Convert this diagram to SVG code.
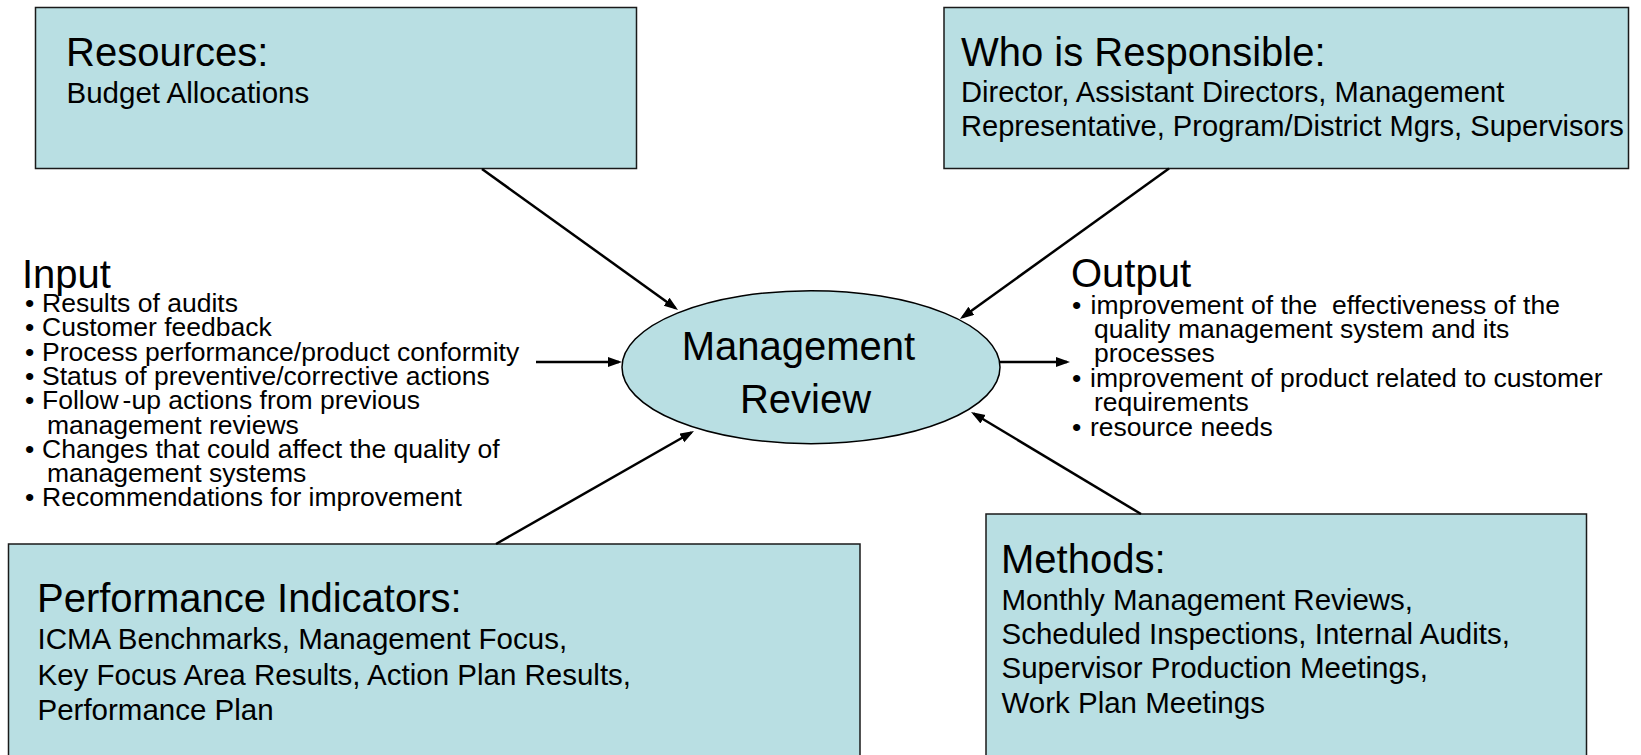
<svg xmlns="http://www.w3.org/2000/svg" width="1641" height="755" viewBox="0 0 1641 755">
<style>
text { font-family: "Liberation Sans", Arial, sans-serif; fill: #000; }
.box { fill: #B9DFE3; stroke: #1a1a1a; stroke-width: 1.5; }
.title { font-size: 40px; }
.body { font-size: 29.5px; }
.list { font-size: 26.5px; }
.conn { stroke: #000; stroke-width: 2.5; fill: none; marker-end: url(#arrow); }
</style>
<defs>
<marker id="arrow" markerUnits="userSpaceOnUse" markerWidth="16" markerHeight="12" refX="11" refY="5" orient="auto">
<path d="M0,0 L14,5 L0,10 z" fill="#000"/>
</marker>
</defs>
<rect width="1641" height="755" fill="#fff"/>

<g id="resources">
<rect class="box" x="35.5" y="7.5" width="601" height="161"/>
<text class="title" x="66" y="66">Resources:</text>
<text class="body" x="66.5" y="103">Budget Allocations</text>
</g>

<g id="responsible">
<rect class="box" x="944" y="7.5" width="684.5" height="161"/>
<text class="title" x="961" y="66">Who is Responsible:</text>
<text class="body" style="font-size:29.1px"><tspan x="961" y="102">Director, Assistant Directors, Management</tspan><tspan x="961" y="136">Representative, Program/District Mgrs, Supervisors</tspan></text>
</g>

<g id="review">
<ellipse cx="811" cy="367.2" rx="189" ry="76.5" fill="#B9DFE3" stroke="#000" stroke-width="1.5"/>
<text class="title" x="798.4" y="360" text-anchor="middle">Management</text>
<text class="title" x="805.5" y="413" text-anchor="middle">Review</text>
</g>

<g id="input">
<text class="title" x="22" y="288">Input</text>
<text class="list" x="25" y="312">•</text><text class="list" x="42" y="312">Results of audits</text>
<text class="list" x="25" y="336.3">•</text><text class="list" x="42" y="336.3">Customer feedback</text>
<text class="list" x="25" y="360.6">•</text><text class="list" x="42" y="360.6">Process performance/product conformity</text>
<text class="list" x="25" y="384.9">•</text><text class="list" x="42" y="384.9">Status of preventive/corrective actions</text>
<text class="list" x="25" y="409.2">•</text><text class="list" x="42" y="409.2">Follow<tspan dx="4">-up actions from previous</tspan></text>
<text class="list" x="47" y="433.5">management reviews</text>
<text class="list" x="25" y="457.8">•</text><text class="list" x="42" y="457.8">Changes that could affect the quality of</text>
<text class="list" x="47" y="482.1">management systems</text>
<text class="list" x="25" y="506.4">•</text><text class="list" x="42" y="506.4">Recommendations for improvement</text>
</g>

<g id="output">
<text class="title" x="1071" y="287">Output</text>
<text class="list" x="1072" y="313.5">•</text><text class="list" x="1090.5" y="313.5" style="white-space:pre" xml:space="preserve">improvement of the  effectiveness of the</text>
<text class="list" x="1094" y="337.9">quality management system and its</text>
<text class="list" x="1094" y="362.3">processes</text>
<text class="list" x="1072" y="386.7">•</text><text class="list" x="1090" y="386.7">improvement of product related to customer</text>
<text class="list" x="1094" y="411.1">requirements</text>
<text class="list" x="1072" y="435.5">•</text><text class="list" x="1090" y="435.5">resource needs</text>
</g>

<g id="performance">
<rect class="box" x="8.5" y="544" width="851.5" height="220"/>
<text class="title" x="37" y="611.7">Performance Indicators:</text>
<text class="body"><tspan x="37.5" y="649.3">ICMA Benchmarks, Management Focus,</tspan><tspan x="37.5" y="684.8">Key Focus Area Results, Action Plan Results,</tspan><tspan x="37.5" y="720.2">Performance Plan</tspan></text>
</g>

<g id="methods">
<rect class="box" x="986" y="514" width="600.5" height="250"/>
<text class="title" x="1001" y="572.5">Methods:</text>
<text class="body"><tspan x="1001.5" y="610">Monthly Management Reviews,</tspan><tspan x="1001.5" y="644.2">Scheduled Inspections, Internal Audits,</tspan><tspan x="1001.5" y="678.4">Supervisor Production Meetings,</tspan><tspan x="1001.5" y="712.6">Work Plan Meetings</tspan></text>
</g>

<g id="connectors">
<line class="conn" x1="482" y1="169" x2="675.6" y2="308.2"/>
<line class="conn" x1="1169" y1="168.5" x2="962.4" y2="317.2"/>
<line class="conn" x1="536" y1="362" x2="619" y2="362"/>
<line class="conn" x1="1000" y1="362" x2="1067" y2="362"/>
<line class="conn" x1="496" y1="544" x2="691.4" y2="432.5"/>
<line class="conn" x1="1141" y1="514" x2="973.6" y2="413.5"/>
</g>
</svg>
